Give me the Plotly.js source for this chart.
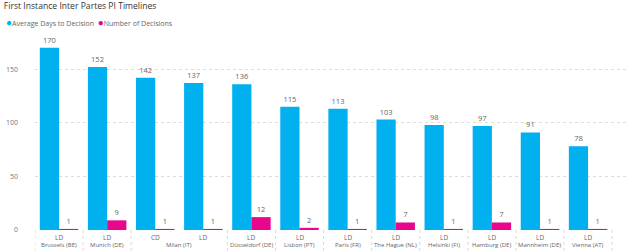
<!DOCTYPE html>
<html>
<head>
<meta charset="utf-8">
<script src="https://cdn.plot.ly/plotly-3.0.1.min.js"></script>
<style>
  html, body { margin: 0; padding: 0; background: #fff; }
  #chart { width: 640px; height: 251px; }
</style>
</head>
<body>
<div id="chart"></div>
<script>
// Court locations (outer level) and division type (inner level)
const courts = ['Brussels (BE)', 'Munich (DE)', 'Milan (IT)', 'Milan (IT)', 'Düsseldorf (DE)',
  'Lisbon (PT)', 'Paris (FR)', 'The Hague (NL)', 'Helsinki (FI)', 'Hamburg (DE)',
  'Mannheim (DE)', 'Vienna (AT)'];
const divisions = ['LD', 'LD', 'CD', 'LD', 'LD', 'LD', 'LD', 'LD', 'LD', 'LD', 'LD', 'LD'];

// Series values
const avgDays = [170, 152, 142, 137, 136, 115, 113, 103, 98, 97, 91, 78];
const numDecisions = [1, 9, 1, 1, 12, 2, 1, 7, 1, 7, 1, 1];

const seriesNames = ['Average Days to Decision', 'Number of Decisions'];
const seriesColors = ['#01B0EF', '#E8068C'];

const FONT = '"Segoe UI", "Open Sans", "Noto Sans", sans-serif';
const labelFont = { family: FONT, size: 7.5, color: '#666666' };

// One category per court/division pair
const keys = courts.map((c, i) => c + ' | ' + divisions[i]);

function barTrace(values, idx) {
  return {
    type: 'bar',
    name: seriesNames[idx],
    x: keys,
    y: values,
    marker: { color: seriesColors[idx] },
    text: values.map(String),
    textposition: 'outside',
    textfont: labelFont,
    cliponaxis: false,
    showlegend: false,
    hoverinfo: 'y'
  };
}

const traces = [barTrace(avgDays, 0), barTrace(numDecisions, 1)];

// Group consecutive identical courts for the outer axis row
const groups = [];
courts.forEach((c, i) => {
  const last = groups[groups.length - 1];
  if (last && last.name === c) last.end = i;
  else groups.push({ name: c, start: i, end: i });
});

const annotations = [];
const shapes = [];

// Outer row: court names centred under their division columns
groups.forEach(g => {
  annotations.push({
    xref: 'x', yref: 'paper',
    x: (g.start + g.end) / 2, y: 0,
    yanchor: 'top', yshift: -9,
    text: g.name, showarrow: false,
    font: { family: FONT, size: 6, color: '#666666' }
  });
});

// Inner row: division labels
divisions.forEach((d, i) => {
  annotations.push({
    xref: 'x', yref: 'paper',
    x: i, y: 0,
    yanchor: 'top', yshift: -1,
    text: d, showarrow: false,
    font: { family: FONT, size: 6.5, color: '#666666' }
  });
});

// Dotted dividers between court groups
const boundaries = [groups[0].start - 0.5].concat(groups.map(g => g.end + 0.5));
boundaries.forEach(b => {
  shapes.push({
    type: 'line', xref: 'x', yref: 'paper',
    x0: b, x1: b, y0: 0, y1: -0.12,
    line: { color: '#d9d9d9', width: 1, dash: 'dot' }
  });
});

// Legend row with round markers
annotations.push({
  xref: 'paper', yref: 'paper',
  x: -0.052, xanchor: 'left',
  y: 1.08, yanchor: 'middle',
  showarrow: false,
  text: seriesNames.map((n, i) =>
    '<span style="color:' + seriesColors[i] + ';font-size:10px">●</span>' + n).join('  '),
  font: { family: FONT, size: 7, color: '#666666' }
});

const layout = {
  width: 640,
  height: 251,
  margin: { l: 35, r: 12, t: 37, b: 21, pad: 0 },
  paper_bgcolor: '#ffffff',
  plot_bgcolor: '#ffffff',
  font: { family: FONT, color: '#666666', size: 8 },
  title: {
    text: 'First Instance Inter Partes PI Timelines',
    font: { family: FONT, size: 8.6, color: '#333333' },
    x: 0.006, xanchor: 'left',
    y: 0.99, yanchor: 'top'
  },
  showlegend: false,
  barmode: 'group',
  bargap: 0.2,
  bargroupgap: 0,
  annotations: annotations,
  shapes: shapes,
  xaxis: {
    type: 'category',
    range: [-0.5, 11.83],
    showgrid: false,
    zeroline: false,
    showline: false,
    ticks: '',
    showticklabels: false,
    fixedrange: true
  },
  yaxis: {
    range: [0, 180],
    tickvals: [0, 50, 100, 150],
    showgrid: true,
    gridcolor: '#dcdcdc',
    griddash: 'dot',
    gridwidth: 1,
    zeroline: false,
    showline: false,
    ticks: '',
    ticklabelstandoff: 16,
    tickfont: { family: FONT, size: 7, color: '#777777' },
    fixedrange: true
  }
};

Plotly.newPlot('chart', traces, layout, { displayModeBar: false, staticPlot: true });
</script>
</body>
</html>
